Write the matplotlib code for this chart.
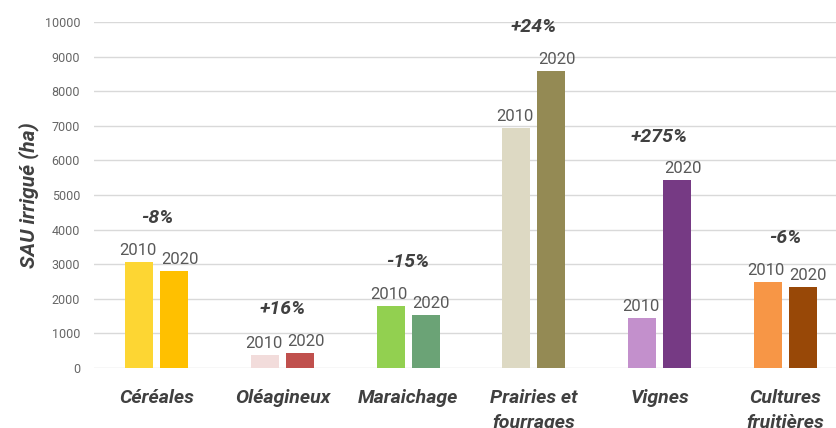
import matplotlib
matplotlib.use("Agg")
import matplotlib.pyplot as plt
import numpy as np

categories = ["Céréales", "Oléagineux", "Maraichage", "Prairies et\nfourrages", "Vignes", "Cultures\nfruitières"]
values_2010 = [3070, 375, 1790, 6930, 1445, 2485]
values_2020 = [2800, 440, 1520, 8580, 5420, 2330]
changes = ["-8%", "+16%", "-15%", "+24%", "+275%", "-6%"]
colors_2010 = ["#FDD633", "#F2DCDB", "#92D050", "#DDD9C3", "#C390CC", "#F79646"]
colors_2020 = ["#FFC000", "#C0504D", "#6BA376", "#948A54", "#763A84", "#984807"]
year_labels = ["2010", "2020"]
yticks = list(range(0, 10001, 1000))

plt.rcParams['font.family'] = ['Roboto', 'DejaVu Sans']

fig = plt.figure(figsize=(8.36, 4.28), dpi=100)
ax = fig.add_axes([94/836, 60/428, 1 - 94/836, (368-22)/428])

x = np.arange(len(categories))
w = 0.223
off = 0.139
ax.bar(x - off, values_2010, width=w, color=colors_2010, zorder=3)
ax.bar(x + off, values_2020, width=w, color=colors_2020, zorder=3)

for i in range(len(categories)):
    ax.annotate(year_labels[0], (x[i] - off, values_2010[i]), xytext=(-1, 3),
                textcoords="offset points", ha="center", va="bottom",
                fontsize=12, color="#595959")
    ax.annotate(year_labels[1], (x[i] + off, values_2020[i]), xytext=(4, 3),
                textcoords="offset points", ha="center", va="bottom",
                fontsize=12, color="#595959")
    top = max(values_2010[i], values_2020[i])
    ax.annotate(changes[i], (x[i], top), xytext=(0, 25),
                textcoords="offset points", ha="center", va="bottom",
                fontsize=14, fontweight="bold", fontstyle="italic", color="#404040")

ax.set_ylim(0, 10000)
ax.set_xlim(-0.5, 5.5 - 12/125.7)
ax.set_yticks(yticks)
ax.set_yticklabels([str(t) for t in yticks], fontsize=9, color="#666666")
ax.set_xticks(x)
ax.set_xticklabels(categories, fontsize=14, fontweight="bold", fontstyle="italic",
                   color="#404040", linespacing=1.5, va="top")
ax.tick_params(axis="both", length=0)
ax.tick_params(axis="y", pad=10)
ax.tick_params(axis="x", pad=15)
ax.grid(axis="y", color="#D9D9D9", linewidth=1, zorder=0)
for s in ax.spines.values():
    s.set_visible(False)
ax.set_ylabel("SAU irrigué (ha)", fontsize=15, fontweight="bold", fontstyle="italic",
              color="#404040", labelpad=4)

fig.savefig("out.png", dpi=100)
